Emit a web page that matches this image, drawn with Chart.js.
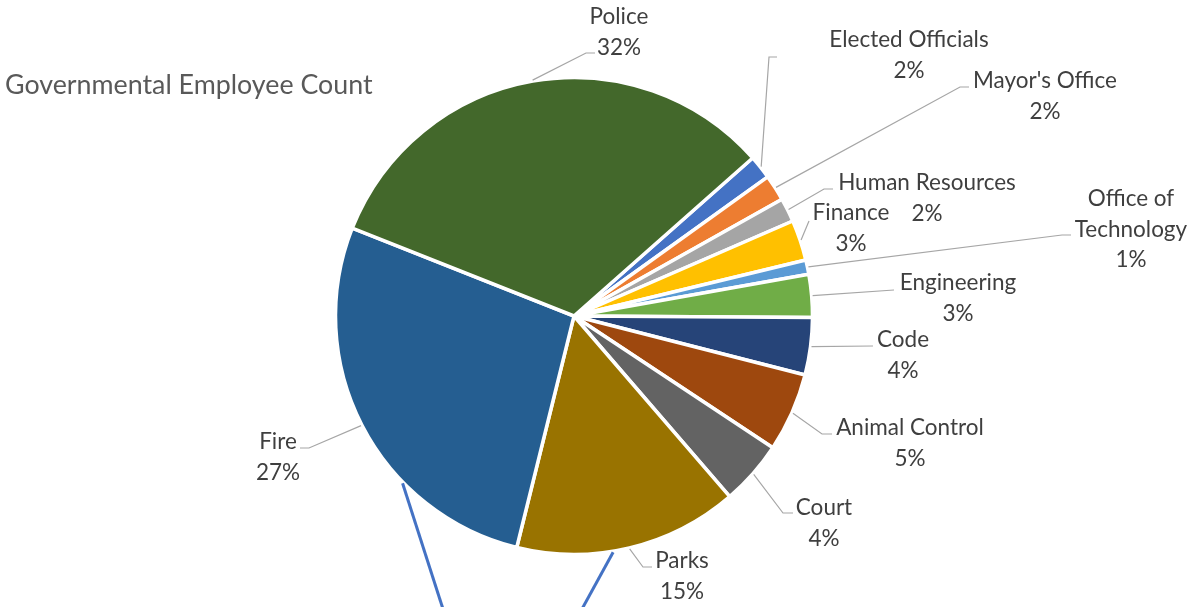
<!DOCTYPE html>
<html>
<head>
<meta charset="utf-8">
<script src="https://cdn.jsdelivr.net/npm/chart.js@4.4.1/dist/chart.umd.min.js"></script>
<style>
  html, body { margin: 0; padding: 0; background: #fff; }
  .wrap { position: relative; width: 1191px; height: 607px; overflow: hidden; }
  .title {
    position: absolute; left: 5px; top: 70px;
    font-family: Lato, sans-serif; font-size: 26.8px; color: #595959;
    line-height: 28px; white-space: nowrap;
  }
</style>
</head>
<body>
<div class="wrap">
  <canvas id="employeeChart" width="1191" height="607"></canvas>
  <div class="title">Governmental Employee Count</div>
</div>
<script>
// Departments and employee counts
const departments = [
  "Elected Officials", "Mayor's Office", "Human Resources", "Finance",
  "Office of Technology", "Engineering", "Code", "Animal Control",
  "Court", "Parks", "Fire", "Police"
];
const employees = [10, 11, 10, 17, 6, 18, 24, 33, 27, 94, 168, 201];
const sliceColors = [
  "#4472C4", "#ED7D31", "#A5A5A5", "#FFC000", "#5B9BD5", "#70AD47",
  "#264478", "#9E480E", "#636363", "#997300", "#255E91", "#43682B"
];
// how each label is broken into lines (name part)
const labelLines = [
  ["Elected Officials"], ["Mayor's Office"], ["Human Resources"], ["Finance"],
  ["Office of", "Technology"], ["Engineering"], ["Code"], ["Animal Control"],
  ["Court"], ["Parks"], ["Fire"], ["Police"]
];

// label placement, offsets from the pie centre: text centre, leader elbow, leader end
const labelLayout = [
  { at: [335, -277], elbow: [195, -259], end: [203, -259] },
  { at: [471, -236], elbow: [386, -229], end: [395, -229] },
  { at: [353, -134], elbow: [250, -127], end: [259, -127] },
  { at: [277, -104], elbow: [235, -95],  end: [235, -95] },
  { at: [557, -118], elbow: [488, -81],  end: [497, -81] },
  { at: [384, -34],  elbow: [320, -26],  end: [320, -26] },
  { at: [329, 23],   elbow: [299, 30],   end: [299, 30] },
  { at: [336, 111],  elbow: [248, 118],  end: [258, 118] },
  { at: [250, 191],  elbow: [209, 197],  end: [219, 197] },
  { at: [108, 244],  elbow: [69, 251],   end: [78, 251] },
  { at: [-296, 125], elbow: [-265, 132], end: [-274, 132] },
  { at: [45, -300],  elbow: [12, -263],  end: [21, -263] }
];

// the two blue connector lines leaving the bottom of the pie
// (angle on the rim in degrees clockwise from 12 o'clock, x offset where it leaves the picture)
const connectors = [
  { angle: 225.7, exitX: -131 },
  { angle: 170.6, exitX: 8 }
];

const total = employees.reduce((a, b) => a + b, 0);

const labelPlugin = {
  id: "pieLabels",
  afterDatasetsDraw(chart) {
    const ctx = chart.ctx;
    const arcs = chart.getDatasetMeta(0).data;
    const cx = arcs[0].x, cy = arcs[0].y;
    const r = arcs[0].outerRadius;

    ctx.save();
    // connectors
    ctx.strokeStyle = "#4472C4";
    ctx.lineWidth = 3;
    connectors.forEach((c) => {
      const a = (c.angle - 90) * Math.PI / 180;
      ctx.beginPath();
      ctx.moveTo(cx + Math.cos(a) * (r + 1), cy + Math.sin(a) * (r + 1));
      ctx.lineTo(cx + c.exitX, chart.height + 2);
      ctx.stroke();
    });

    arcs.forEach((arc, i) => {
      const lay = labelLayout[i];
      const mid = (arc.startAngle + arc.endAngle) / 2;
      // leader line
      ctx.strokeStyle = "#A6A6A6";
      ctx.lineWidth = 1.2;
      ctx.beginPath();
      ctx.moveTo(cx + Math.cos(mid) * (r + 1), cy + Math.sin(mid) * (r + 1));
      ctx.lineTo(cx + lay.elbow[0], cy + lay.elbow[1]);
      ctx.lineTo(cx + lay.end[0], cy + lay.end[1]);
      ctx.stroke();

      // text
      const pct = Math.round(employees[i] / total * 100) + "%";
      const lines = labelLines[i].concat([pct]);
      ctx.fillStyle = "#3f3f3f";
      ctx.font = "22.5px Lato";
      ctx.textAlign = "center";
      ctx.textBaseline = "alphabetic";
      lines.forEach((t, k) => {
        ctx.fillText(t, cx + lay.at[0], cy + lay.at[1] + 8 + k * 30.5);
      });
    });
    ctx.restore();
  }
};

new Chart(document.getElementById("employeeChart"), {
  type: "pie",
  data: {
    labels: departments,
    datasets: [{
      data: employees,
      backgroundColor: sliceColors,
      borderColor: "#ffffff",
      borderWidth: 3.5
    }]
  },
  options: {
    responsive: false,
    animation: false,
    rotation: 48.5,
    radius: 238.5,
    layout: { padding: { top: 79, bottom: 54, left: 0, right: 43 } },
    plugins: {
      legend: { display: false },
      tooltip: { enabled: false }
    }
  },
  plugins: [labelPlugin]
});
</script>
</body>
</html>
